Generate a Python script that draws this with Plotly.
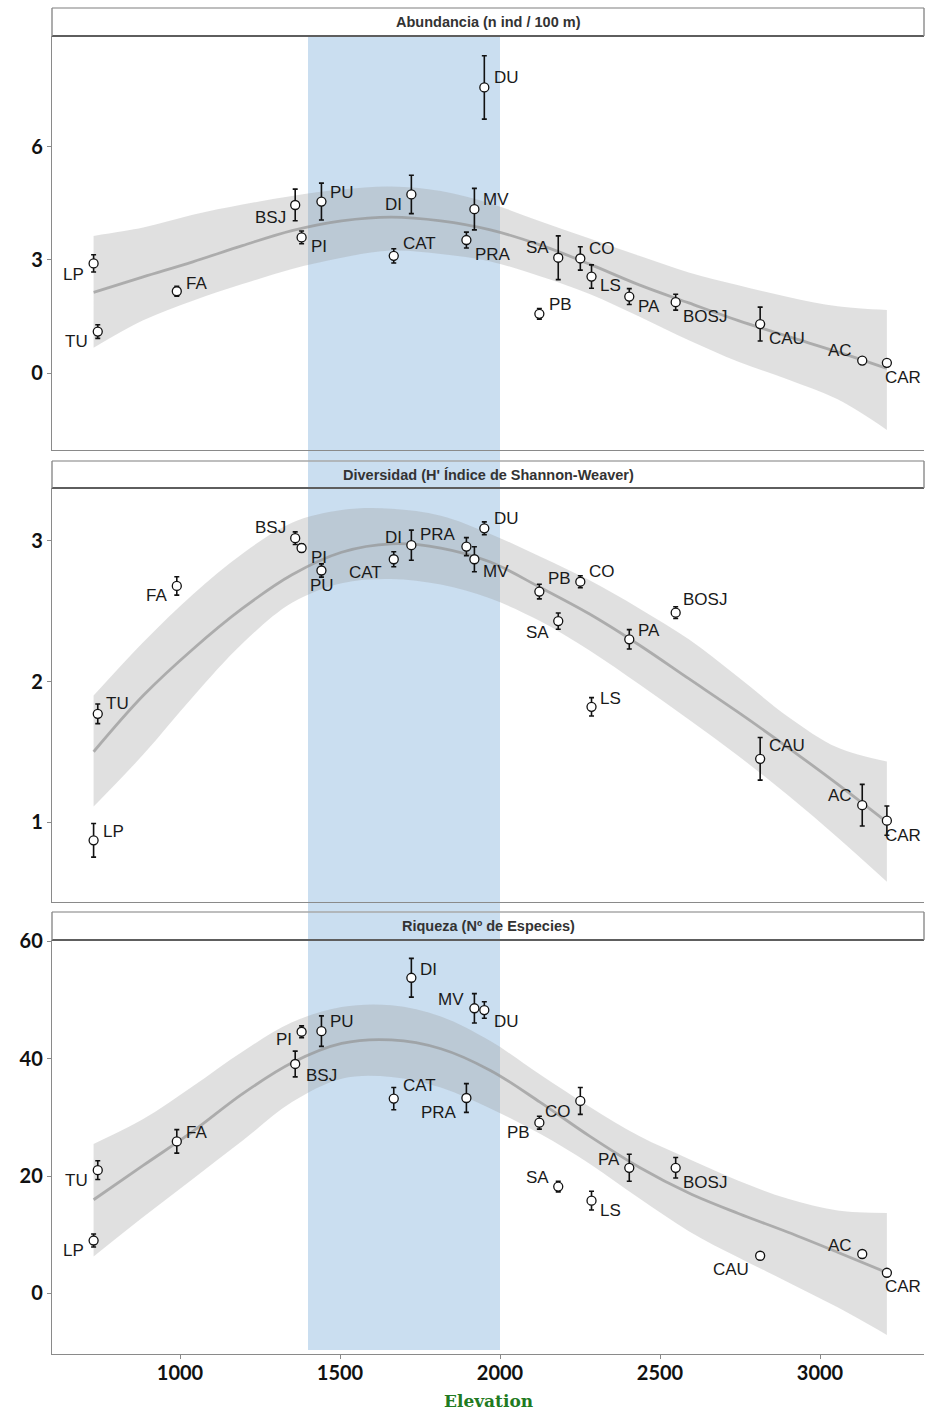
import plotly.graph_objects as go

# ---------------- data ----------------
sites = ["LP", "TU", "FA", "BSJ", "PI", "PU", "CAT", "DI", "PRA", "MV",
         "DU", "PB", "SA", "CO", "LS", "PA", "BOSJ", "CAU", "AC", "CAR"]
elevation = [730, 743, 990, 1360, 1380, 1442, 1668, 1723, 1895, 1920,
             1951, 2123, 2182, 2251, 2286, 2404, 2549, 2813, 3132, 3209]

abundancia = [2.91, 1.10, 2.17, 4.46, 3.60, 4.55, 3.11, 4.74, 3.53, 4.35,
              7.58, 1.57, 3.06, 3.04, 2.56, 2.03, 1.88, 1.30, 0.33, 0.27]
abundancia_se = [0.23, 0.18, 0.13, 0.42, 0.17, 0.49, 0.19, 0.51, 0.21, 0.55,
                 0.84, 0.14, 0.58, 0.31, 0.31, 0.21, 0.21, 0.45, 0.0, 0.0]

diversidad = [0.87, 1.77, 2.68, 3.02, 2.95, 2.79, 2.87, 2.97, 2.96, 2.87,
              3.09, 2.64, 2.43, 2.71, 1.82, 2.30, 2.49, 1.45, 1.12, 1.01]
diversidad_se = [0.12, 0.07, 0.065, 0.045, 0.03, 0.047, 0.053, 0.107, 0.064, 0.089,
                 0.046, 0.052, 0.058, 0.043, 0.065, 0.069, 0.042, 0.152, 0.148, 0.104]

riqueza = [9.0, 21.0, 25.9, 39.1, 44.6, 44.7, 33.2, 53.8, 33.3, 48.6,
           48.3, 29.1, 18.2, 32.8, 15.8, 21.4, 21.4, 6.4, 6.7, 3.5]
riqueza_se = [1.1, 1.6, 2.0, 2.2, 1.0, 2.6, 1.9, 3.3, 2.45, 2.5,
              1.4, 1.1, 0.9, 2.3, 1.6, 2.3, 1.75, 0.0, 0.0, 0.0]

# smoother (fitted curve and confidence band)
smooth_x = [730, 885, 1040, 1195, 1350, 1505, 1660, 1815, 1970,
            2125, 2280, 2435, 2590, 2745, 2900, 3055, 3209]

abund_fit = [2.14, 2.55, 2.95, 3.38, 3.78, 4.04, 4.14, 4.04, 3.80,
             3.40, 2.89, 2.34, 1.86, 1.39, 0.97, 0.56, 0.12]
abund_hi = [3.64, 3.86, 4.20, 4.47, 4.70, 4.87, 4.95, 4.83, 4.50,
            4.03, 3.57, 3.11, 2.67, 2.33, 2.02, 1.77, 1.67]
abund_lo = [0.67, 1.40, 1.92, 2.36, 2.76, 3.06, 3.25, 3.16, 2.96,
            2.57, 2.10, 1.50, 0.87, 0.30, -0.17, -0.70, -1.51]

div_fit = [1.50, 1.90, 2.23, 2.52, 2.76, 2.92, 2.98, 2.95, 2.85,
           2.67, 2.48, 2.26, 2.02, 1.78, 1.53, 1.27, 1.00]
div_hi = [1.90, 2.28, 2.62, 2.91, 3.13, 3.22, 3.23, 3.18, 3.05,
          2.89, 2.72, 2.52, 2.30, 2.03, 1.75, 1.53, 1.43]
div_lo = [1.11, 1.48, 1.89, 2.27, 2.56, 2.70, 2.73, 2.69, 2.59,
          2.43, 2.22, 1.98, 1.73, 1.47, 1.19, 0.89, 0.575]

riq_fit = [15.95, 21.8, 27.6, 34.0, 39.3, 42.6, 43.2, 41.7, 38.0,
           32.6, 26.8, 21.5, 17.1, 13.6, 10.4, 7.0, 3.53]
riq_hi = [25.47, 29.7, 35.3, 41.2, 46.2, 48.8, 49.1, 47.2, 43.0,
          37.3, 31.8, 26.8, 22.9, 19.2, 16.1, 14.1, 13.7]
riq_lo = [6.27, 13.0, 19.5, 26.0, 32.6, 36.6, 36.9, 35.1, 31.5,
          27.2, 22.1, 16.2, 10.6, 6.1, 1.9, -2.4, -7.1]

band_x = [1400, 2000]

titles = ["Abundancia (n ind / 100 m)",
          "Diversidad (H' Índice de Shannon-Weaver)",
          "Riqueza (Nº de Especies)"]
x_ticks = [1000, 1500, 2000, 2500, 3000]
y_ticks = [[0, 3, 6], [1, 2, 3], [0, 20, 40, 60]]
y_ranges = [[-2.044, 8.946], [0.431, 3.377], [-10.35, 60.24]]

# label offsets (pixels; dx right, dy down) — layout only
label_offsets = [
    {"LP": (-20, 11), "TU": (-21, 10), "FA": (20, -8), "BSJ": (-25, 13), "PI": (17, 9),
     "PU": (21, -9), "CAT": (26, -12), "DI": (-18, 10), "PRA": (27, 14), "MV": (22, -10),
     "DU": (22, -10), "PB": (21, -9), "SA": (-21, -10), "CO": (22, -10), "LS": (19, 9),
     "PA": (20, 10), "BOSJ": (29, 14), "CAU": (27, 14), "AC": (-22, -10), "CAR": (16, 15)},
    {"LP": (20, -9), "TU": (20, -10), "FA": (-20, 10), "BSJ": (-25, -11), "PI": (17, 9),
     "PU": (1, 15), "CAT": (-28, 13), "DI": (-18, -8), "PRA": (-28, -12), "MV": (22, 12),
     "DU": (22, -10), "PB": (20, -13), "SA": (-21, 11), "CO": (22, -10), "LS": (19, -8),
     "PA": (20, -9), "BOSJ": (29, -13), "CAU": (27, -13), "AC": (-22, -10), "CAR": (16, 15)},
    {"LP": (-20, 10), "TU": (-21, 10), "FA": (20, -9), "BSJ": (26, 12), "PI": (-18, 8),
     "PU": (21, -10), "CAT": (26, -13), "DI": (17, -8), "PRA": (-27, 14), "MV": (-23, -9),
     "DU": (22, 11), "PB": (-21, 10), "SA": (-21, -9), "CO": (-22, 11), "LS": (19, 10),
     "PA": (-20, -8), "BOSJ": (29, 15), "CAU": (-29, 14), "AC": (-22, -9), "CAR": (16, 14)},
]

# ---------------- layout geometry ----------------
W, H = 925, 1411
M_L, M_R, M_T, M_B = 52, 1, 8, 57
PH = H - M_T - M_B  # plot area height in px


def py(y_abs):
    return (H - M_B - y_abs) / PH


panel_px = [(36, 450), (488, 902), (940, 1354)]
strip_px = [(8, 36), (461, 488), (912, 940)]

values = [abundancia, diversidad, riqueza]
errors = [abundancia_se, diversidad_se, riqueza_se]
fits = [abund_fit, div_fit, riq_fit]
his = [abund_hi, div_hi, riq_hi]
los = [abund_lo, div_lo, riq_lo]

fig = go.Figure()

RIBBON = "rgba(153,153,153,0.30)"
LINE = "rgba(145,145,145,0.65)"
FRAME = "#8a8a8a"
TICKFONT = dict(family="Lato", size=20, color="#111111", weight="bold")

for i in range(3):
    xa = "x" if i == 0 else f"x{i+1}"
    ya = "y" if i == 0 else f"y{i+1}"
    # ribbon
    fig.add_trace(go.Scatter(x=smooth_x, y=his[i], mode="lines",
                             line=dict(width=0, shape="spline", smoothing=1.0),
                             hoverinfo="skip", showlegend=False, xaxis=xa, yaxis=ya))
    fig.add_trace(go.Scatter(x=smooth_x, y=los[i], mode="lines",
                             line=dict(width=0, shape="spline", smoothing=1.0),
                             fill="tonexty", fillcolor=RIBBON, hoverinfo="skip", showlegend=False,
                             xaxis=xa, yaxis=ya))
    # fitted line
    fig.add_trace(go.Scatter(x=smooth_x, y=fits[i], mode="lines",
                             line=dict(color=LINE, width=2.8, shape="spline", smoothing=1.0),
                             hoverinfo="skip", showlegend=False, xaxis=xa, yaxis=ya))
    # points with error bars
    fig.add_trace(go.Scatter(x=elevation, y=values[i], mode="markers",
                             marker=dict(symbol="circle", size=9, color="white",
                                         line=dict(color="#111111", width=1.3)),
                             error_y=dict(type="data", array=errors[i], visible=True,
                                          color="#111111", thickness=1.6, width=2.5),
                             text=sites, showlegend=False, xaxis=xa, yaxis=ya))

    y0p, y1p = py(panel_px[i][1]), py(panel_px[i][0])
    xkey = "xaxis" if i == 0 else f"xaxis{i+1}"
    ykey = "yaxis" if i == 0 else f"yaxis{i+1}"
    last = (i == 2)
    fig.update_layout(**{
        xkey: dict(domain=[0, 1], range=[600, 3325], anchor=ya, showgrid=False, zeroline=False,
                   showline=True, linecolor=FRAME, linewidth=1.4, automargin=False,
                   ticks="outside" if last else "", ticklen=4, tickcolor=FRAME,
                   tickvals=x_ticks, showticklabels=last, ticklabelstandoff=-3,
                   tickfont=TICKFONT),
        ykey: dict(domain=[y0p, y1p], range=y_ranges[i], anchor=xa, showgrid=False, zeroline=False,
                   showline=True, linecolor=FRAME, linewidth=1.4, automargin=False,
                   ticks="outside", ticklen=4, tickcolor=FRAME, tickvals=y_ticks[i],
                   tickfont=TICKFONT),
    })

    # labels
    for s, xv, yv in zip(sites, elevation, values[i]):
        dx, dy = label_offsets[i][s]
        fig.add_annotation(x=xv, y=yv, xref=xa, yref=ya, text=s, showarrow=False,
                           xshift=dx, yshift=-dy,
                           font=dict(family="Liberation Sans", size=17, color="#1a1a1a"))

# shapes: strips (white), blue band, then strip lines
shapes = []
for (s0, s1) in strip_px:
    shapes.append(dict(type="rect", xref="paper", yref="paper", x0=0, x1=1,
                       y0=py(s1), y1=py(s0), fillcolor="white", line=dict(width=0), layer="below"))
shapes.append(dict(type="rect", xref="x3", yref="paper", x0=band_x[0], x1=band_x[1],
                   y0=py(1350), y1=py(36), fillcolor="#cadef0", line=dict(width=0), layer="below"))
for (s0, s1) in strip_px:
    shapes.append(dict(type="line", xref="paper", yref="paper", x0=0, x1=1, y0=py(s0), y1=py(s0),
                       line=dict(color="#a8a8a8", width=1.5), layer="below"))
    shapes.append(dict(type="line", xref="paper", yref="paper", x0=0, x1=1, y0=py(s1), y1=py(s1),
                       line=dict(color="#5e5e5e", width=2), layer="below"))
    shapes.append(dict(type="line", xref="paper", yref="paper", x0=0, x1=0, y0=py(s1), y1=py(s0),
                       line=dict(color=FRAME, width=1.4), layer="below"))
    shapes.append(dict(type="line", xref="paper", yref="paper", x0=1, x1=1, y0=py(s1), y1=py(s0),
                       line=dict(color=FRAME, width=1.4), layer="below"))

for i, (s0, s1) in enumerate(strip_px):
    fig.add_annotation(x=0.5, y=py((s0 + s1) / 2), xref="paper", yref="paper", text=titles[i],
                       showarrow=False, yanchor="middle",
                       font=dict(family="Liberation Sans", size=14.5, color="#333333", weight="bold"))

fig.add_annotation(x=0.5, y=py(1401), xref="paper", yref="paper", text="Elevation", showarrow=False,
                   yanchor="middle",
                   font=dict(family="DejaVu Serif", size=17, color="#217a21", weight="bold"))

fig.update_layout(width=W, height=H, margin=dict(l=M_L, r=M_R, t=M_T, b=M_B, autoexpand=False),
                  paper_bgcolor="white", plot_bgcolor="rgba(0,0,0,0)", shapes=shapes,
                  showlegend=False)

fig.write_html("out.html")
